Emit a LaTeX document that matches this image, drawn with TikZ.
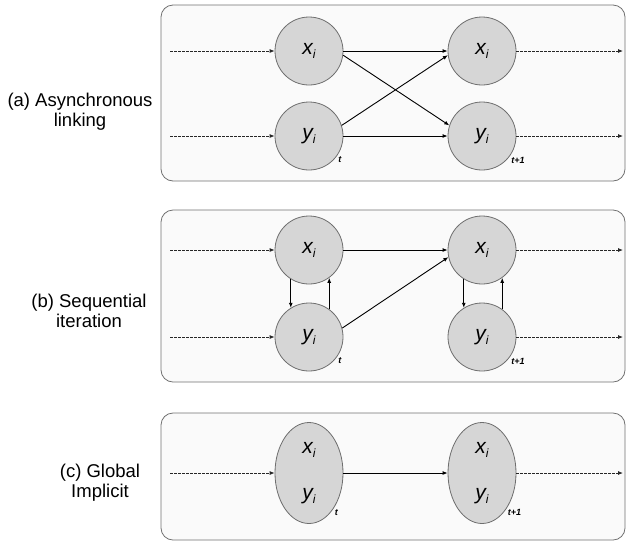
\documentclass[tikz,border=0pt]{standalone}
\usepackage{fontspec}
\setmainfont{Liberation Sans}
\usetikzlibrary{shapes.geometric, arrows.meta}

\definecolor{boxline}{HTML}{707070}
\definecolor{boxfill}{HTML}{FAFAFA}
\definecolor{nodeline}{HTML}{6E6E6E}
\definecolor{nodefill}{HTML}{D6D6D6}

\newcommand{\vsub}[1]{#1\raisebox{-4.5pt}{\fontsize{12}{12}\selectfont i}}

\begin{document}
\begin{tikzpicture}[x=1pt, y=-1pt, >={Latex[length=5pt,width=4pt]},
    panel/.style={draw=boxline, fill=boxfill, line width=0.8pt, rounded corners=12pt},
    var/.style={circle, draw=nodeline, fill=nodefill, line width=0.8pt, minimum size=68pt, inner sep=0pt,
        font=\fontsize{21}{21}\selectfont\itshape},
    jointvar/.style={ellipse, draw=nodeline, fill=nodefill, line width=0.8pt, minimum width=68pt,
        minimum height=101pt, inner sep=0pt, align=center, font=\fontsize{21}{46}\selectfont\itshape},
    link/.style={->, line width=0.9pt},
    flow/.style={->, black!85, line width=0.8pt, dash pattern=on 3pt off 1pt},
    tlab/.style={inner sep=1pt, label distance=0pt, font=\fontsize{9}{9}\selectfont\bfseries\itshape},
    caption/.style={align=center, font=\fontsize{18.5}{20}\selectfont}]
    \useasboundingbox (0,0) rectangle (628,542);

    % panels
    \draw[panel] (161,5) rectangle (625,181);
    \draw[panel] (161,210) rectangle (625,382);
    \draw[panel] (161,413) rectangle (625,540);

    \node[caption] (capa) at (80,112) {(a) Asynchronous\\linking};
    \node[caption] (capb) at (89,311) {(b) Sequential\\iteration};
    \node[caption] (capc) at (100,483) {(c) Global\\Implicit};

    % (a) asynchronous linking
    \node[var] (xa0) at (309,51) {\vsub{x}};
    \node[var, label={[tlab]-35:t}] (ya0) at (309,136) {\vsub{y}};
    \node[var] (xa1) at (482,51) {\vsub{x}};
    \node[var, label={[tlab]-35:t+1}] (ya1) at (482,136) {\vsub{y}};

    \draw[link] (xa0) -- (xa1);
    \draw[link] (ya0) -- (ya1);
    \draw[link] (xa0.-7) -- (ya1.162);
    \draw[link] (ya0.18) -- (xa1.187);

    % (b) sequential iteration
    \node[var] (xb0) at (309,250) {\vsub{x}};
    \node[var, label={[tlab]-35:t}] (yb0) at (309,337) {\vsub{y}};
    \node[var] (xb1) at (482,250) {\vsub{x}};
    \node[var, label={[tlab]-35:t+1}] (yb1) at (482,337) {\vsub{y}};

    \draw[link] (xb0) -- (xb1);
    \draw[link] (yb0.15) -- (xb1.192);
    \draw[link] (xb0.238) -- (yb0.122);
    \draw[link] (yb0.54) -- (xb0.-54);
    \draw[link] (xb1.238) -- (yb1.122);
    \draw[link] (yb1.54) -- (xb1.-54);

    % (c) global implicit
    \node[jointvar, label={[tlab]-55:t}] (zc0) at (309,473) {\vsub{x}\\\vsub{y}};
    \node[jointvar, label={[tlab]-55:t+1}] (zc1) at (482,473) {\vsub{x}\\\vsub{y}};

    \draw[link] (zc0) -- (zc1);

    % incoming and outgoing flows
    \foreach \n/\yy in {xa/51, ya/136, xb/250, yb/337, zc/473} {
        \coordinate (\n-in) at (170,\yy);
        \coordinate (\n-out) at (623,\yy);
        \draw[flow] (\n-in) -- (\n0);
        \draw[flow] (\n1) -- (\n-out);
    }
\end{tikzpicture}
\end{document}
